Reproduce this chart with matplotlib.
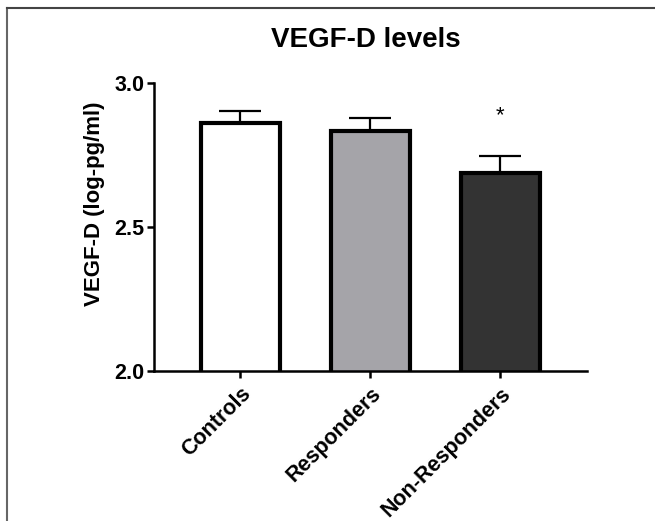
import matplotlib
matplotlib.use("Agg")
import matplotlib.pyplot as plt
from matplotlib.lines import Line2D

plt.rcParams['font.family'] = ['Liberation Sans', 'DejaVu Sans']

groups = ["Controls", "Responders", "Non-Responders"]
means = [2.860, 2.831, 2.685]
sems = [0.040, 0.045, 0.059]
colors = ["#ffffff", "#a5a4a9", "#333333"]
star_y = 2.885

fig = plt.figure(figsize=(6.55, 5.21), dpi=100)
ax = fig.add_axes([0.2351, 0.2885, 0.896 - 0.2351, 0.8413 - 0.2885])

x = range(len(groups))
ax.bar(x, means, width=0.61, color=colors, edgecolor="black", linewidth=3, zorder=2)
ax.errorbar(x, means, yerr=[[0] * len(sems), sems], fmt="none", ecolor="black",
            elinewidth=1.6, capsize=15, capthick=1.6, zorder=1)
ax.text(2, star_y, "*", ha="center", va="center", fontsize=16)

ax.set_xlim(-0.665, 2.665)
ax.set_ylim(2.0, 3.0)
ax.set_yticks([2.0, 2.5, 3.0])
ax.set_yticklabels(["2.0", "2.5", "3.0"], fontsize=15.5, fontweight="bold")
ax.set_xticks(list(x))
ax.set_xticklabels(groups, rotation=45, ha="right", rotation_mode="anchor",
                   fontsize=15.5, fontweight="bold")
ax.set_ylabel("VEGF-D (log-pg/ml)", fontsize=16, fontweight="bold")
ax.yaxis.set_label_coords(-0.113, 0.579)

for side in ["top", "right"]:
    ax.spines[side].set_visible(False)
for side in ["left", "bottom"]:
    ax.spines[side].set_linewidth(1.8)
ax.tick_params(width=1.8, length=5, direction="out")
ax.tick_params(axis="x", pad=4)
ax.tick_params(axis="y", pad=2)

fig.text(0.559, 0.923, "VEGF-D levels", ha="center", va="center",
         fontsize=20, fontweight="bold")

# partial frame seen on the top and left edges
fig.add_artist(Line2D([7 / 655, 7 / 655], [0, 1 - 8 / 521], color="#666666", lw=1.5))
fig.add_artist(Line2D([7 / 655, 1], [1 - 8 / 521, 1 - 8 / 521], color="#444444", lw=1.5))

fig.savefig("out.png", dpi=100)
